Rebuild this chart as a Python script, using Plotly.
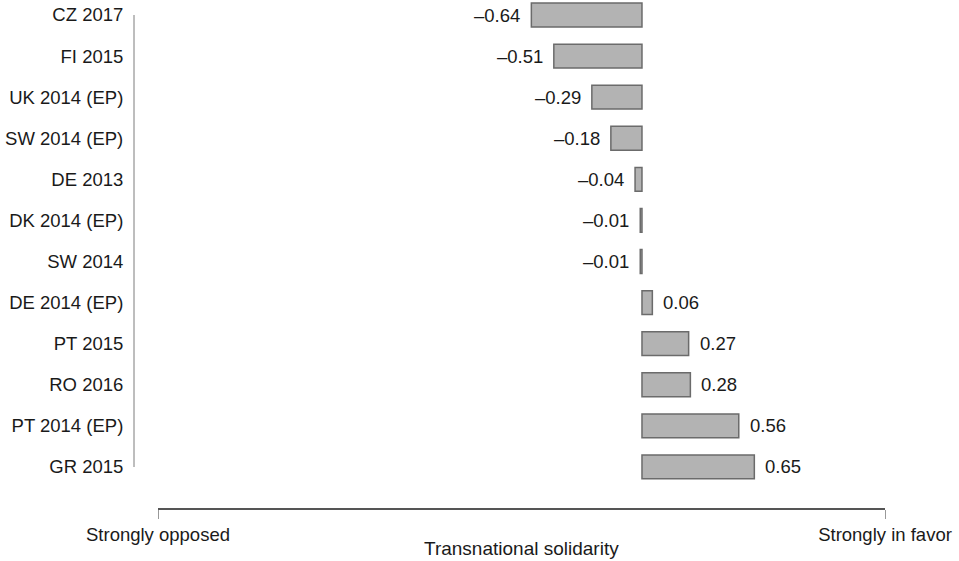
import plotly.graph_objects as go

categories = ["CZ 2017", "FI 2015", "UK 2014 (EP)", "SW 2014 (EP)", "DE 2013", "DK 2014 (EP)",
              "SW 2014", "DE 2014 (EP)", "PT 2015", "RO 2016", "PT 2014 (EP)", "GR 2015"]
values = [-0.64, -0.51, -0.29, -0.18, -0.04, -0.01, -0.01, 0.06, 0.27, 0.28, 0.56, 0.65]
x_tick_labels = ["Strongly opposed", "Strongly in favor"]
x_tick_values = [-2.80, 1.406]

ypos = list(range(len(categories)))
FONT = "Liberation Sans, Arial, sans-serif"

fig = go.Figure()
fig.add_trace(go.Bar(
    x=values, y=ypos, orientation="h", width=0.58,
    marker=dict(color="#b3b3b3", line=dict(color="#6b6b6b", width=1.5)),
    showlegend=False, hoverinfo="x+y",
))

def fmt(v):
    s = f"{abs(v):.2f}"
    return ("\u2013" + s) if v < 0 else s

for y, v in zip(ypos, values):
    fig.add_annotation(
        x=v, y=y, xref="x", yref="y", text=fmt(v), showarrow=False,
        xanchor="right" if v < 0 else "left",
        xshift=-9 if v < 0 else 9,
        font=dict(family=FONT, size=18.5, color="#1a1a1a"),
    )

# light vertical line beside category labels
fig.add_shape(type="line", xref="paper", yref="y",
              x0=-0.033, x1=-0.033, y0=0, y1=len(categories) - 1,
              line=dict(color="#a8a8a8", width=1.5))

# axis title
fig.add_annotation(x=0.5, y=-0.0807, xref="paper", yref="paper", yanchor="middle",
                   text="Transnational solidarity", showarrow=False,
                   font=dict(family=FONT, size=19, color="#1a1a1a"))

fig.update_layout(
    width=959, height=561,
    margin=dict(l=158, r=74, t=0, b=53),
    paper_bgcolor="white", plot_bgcolor="white",
    font=dict(family=FONT, size=18, color="#1a1a1a"),
    xaxis=dict(
        range=x_tick_values, tickvals=x_tick_values, ticktext=x_tick_labels,
        showgrid=False, zeroline=False, showline=True, linecolor="#555555", linewidth=1.5,
        ticks="outside", ticklen=9, tickcolor="#999999", tickwidth=1.2,
        tickfont=dict(size=18.5),
    ),
    yaxis=dict(
        range=[12.0, -0.365], tickvals=ypos, ticktext=categories,
        showgrid=False, zeroline=False, showline=False,
        ticks="outside", ticklen=30, tickcolor="rgba(0,0,0,0)",
        tickfont=dict(size=18.5),
    ),
)

fig.write_html("out.html", config={"displayModeBar": False},
               post_script="document.body.style.margin='0';document.body.style.overflow='hidden';")
